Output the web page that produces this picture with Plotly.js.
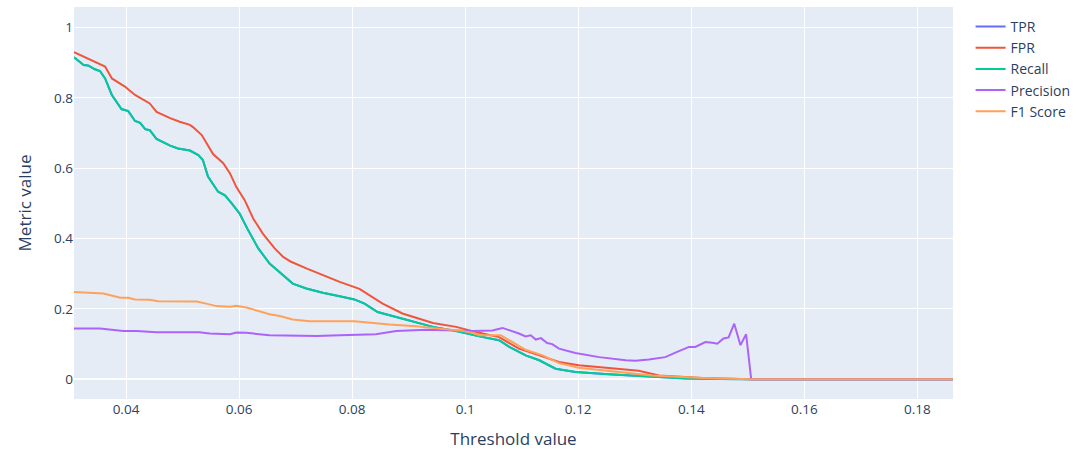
<!DOCTYPE html>
<html>
<head>
<meta charset="utf-8">
<script src="https://cdn.plot.ly/plotly-3.0.1.min.js"></script>
<style>html,body{margin:0;padding:0;background:#fff;}#chart{width:1083px;height:450px;}</style>
</head>
<body>
<div id="chart"></div>
<script>
// Recall (= TPR) readings
const recallX = [0.0308,0.0325,0.0333,0.0345,0.0354,0.0363,0.0375,0.0392,0.0404,0.0416,0.0425,0.0434,0.0442,0.0454,0.0478,0.0492,0.0513,0.0528,0.0536,0.0545,0.0563,0.0575,0.0587,0.0601,0.0616,0.0634,0.0654,0.0672,0.0695,0.0719,0.0748,0.0778,0.0804,0.0822,0.0845,0.0878,0.0907,0.0943,0.0978,0.1001,0.1025,0.1060,0.1078,0.1107,0.1131,0.1160,0.1195,0.1254,0.1307,0.1390,0.1450,0.1506,0.1863];
const recallY = [0.915,0.893,0.892,0.881,0.876,0.855,0.808,0.768,0.762,0.734,0.729,0.711,0.708,0.683,0.664,0.656,0.650,0.637,0.623,0.576,0.533,0.523,0.500,0.471,0.424,0.372,0.329,0.305,0.272,0.258,0.246,0.236,0.227,0.215,0.191,0.177,0.165,0.149,0.139,0.130,0.122,0.111,0.092,0.068,0.054,0.030,0.021,0.014,0.0085,0.002,0.0005,0,0];
const tprX = recallX;
const tprY = recallY;

const fprX = [0.0308,0.0363,0.0375,0.0398,0.0416,0.0442,0.0454,0.0478,0.0495,0.0513,0.0519,0.0534,0.0554,0.0572,0.0584,0.0595,0.0610,0.0625,0.0642,0.0663,0.0678,0.0692,0.0719,0.0748,0.0778,0.0813,0.0854,0.0889,0.0943,0.0984,0.1013,0.1025,0.1060,0.1095,0.1131,0.1166,0.1201,0.1254,0.1307,0.1343,0.1420,0.1506,0.1863];
const fprY = [0.930,0.889,0.855,0.832,0.808,0.784,0.760,0.742,0.732,0.723,0.716,0.694,0.640,0.614,0.585,0.547,0.509,0.457,0.414,0.372,0.348,0.334,0.315,0.296,0.277,0.257,0.215,0.187,0.160,0.149,0.137,0.132,0.120,0.087,0.068,0.049,0.040,0.033,0.024,0.011,0.004,0,0];

const precisionX = [0.0308,0.0354,0.0395,0.0419,0.0454,0.0530,0.0548,0.0584,0.0595,0.0613,0.0654,0.0701,0.0737,0.0778,0.0842,0.0878,0.0931,0.0984,0.1013,0.1048,0.1066,0.1095,0.1107,0.1116,0.1125,0.1134,0.1145,0.1154,0.1166,0.1195,0.1237,0.1284,0.1301,0.1325,0.1354,0.1375,0.1396,0.1407,0.1425,0.1437,0.1446,0.1457,0.1466,0.1476,0.1487,0.1497,0.1506,0.1863];
const precisionY = [0.144,0.144,0.137,0.137,0.134,0.134,0.130,0.128,0.133,0.132,0.125,0.124,0.123,0.125,0.128,0.137,0.141,0.139,0.137,0.139,0.146,0.130,0.122,0.125,0.113,0.117,0.103,0.100,0.087,0.075,0.063,0.054,0.053,0.056,0.063,0.078,0.092,0.092,0.106,0.104,0.101,0.116,0.119,0.158,0.097,0.128,0,0];

const f1X = [0.0308,0.0325,0.0360,0.0390,0.0404,0.0416,0.0442,0.0457,0.0525,0.0542,0.0560,0.0584,0.0595,0.0613,0.0654,0.0672,0.0695,0.0725,0.0804,0.0866,0.0913,0.0954,0.0990,0.1013,0.1025,0.1063,0.1084,0.1107,0.1137,0.1166,0.1201,0.1254,0.1307,0.1330,0.1420,0.1506,0.1863];
const f1Y = [0.248,0.246,0.244,0.232,0.232,0.227,0.226,0.222,0.221,0.215,0.208,0.206,0.209,0.204,0.185,0.180,0.170,0.165,0.165,0.156,0.151,0.144,0.139,0.132,0.125,0.125,0.106,0.084,0.068,0.046,0.033,0.024,0.016,0.011,0.004,0,0];

const seriesNames = ['TPR','FPR','Recall','Precision','F1 Score'];
const seriesColors = ['#636efa','#EF553B','#00cc96','#ab63fa','#FFA15A'];
const seriesX = [tprX, fprX, recallX, precisionX, f1X];
const seriesY = [tprY, fprY, recallY, precisionY, f1Y];

const xTitle = 'Threshold value';
const yTitle = 'Metric value';

const traces = seriesNames.map((n, i) => ({
  type: 'scatter', mode: 'lines', name: n,
  x: seriesX[i], y: seriesY[i],
  line: {color: seriesColors[i], width: 2}
}));

const layout = {
  width: 1083, height: 450,
  margin: {l: 74, r: 130, t: 7, b: 51},
  paper_bgcolor: '#ffffff',
  plot_bgcolor: '#E5ECF6',
  font: {family: '"Open Sans", verdana, arial, sans-serif', size: 14, color: '#2a3f5f'},
  showlegend: true,
  legend: {font: {size: 14}, x: 1.02, y: 0.99, yanchor: 'top'},
  xaxis: {
    title: {text: xTitle, font: {size: 17}},
    range: [0.0308, 0.1863],
    gridcolor: '#ffffff', zerolinecolor: '#ffffff', zerolinewidth: 2,
    showline: false, ticks: '', dtick: 0.02, tick0: 0,
    tickfont: {size: 13.5}
  },
  yaxis: {
    title: {text: yTitle, font: {size: 17}, standoff: 18},
    range: [-0.056, 1.058],
    gridcolor: '#ffffff', zerolinecolor: '#ffffff', zerolinewidth: 2,
    showline: false, ticks: '', dtick: 0.2,
    tickfont: {size: 13.5}
  }
};

Plotly.newPlot('chart', traces, layout, {displayModeBar: false});
</script>
</body>
</html>
